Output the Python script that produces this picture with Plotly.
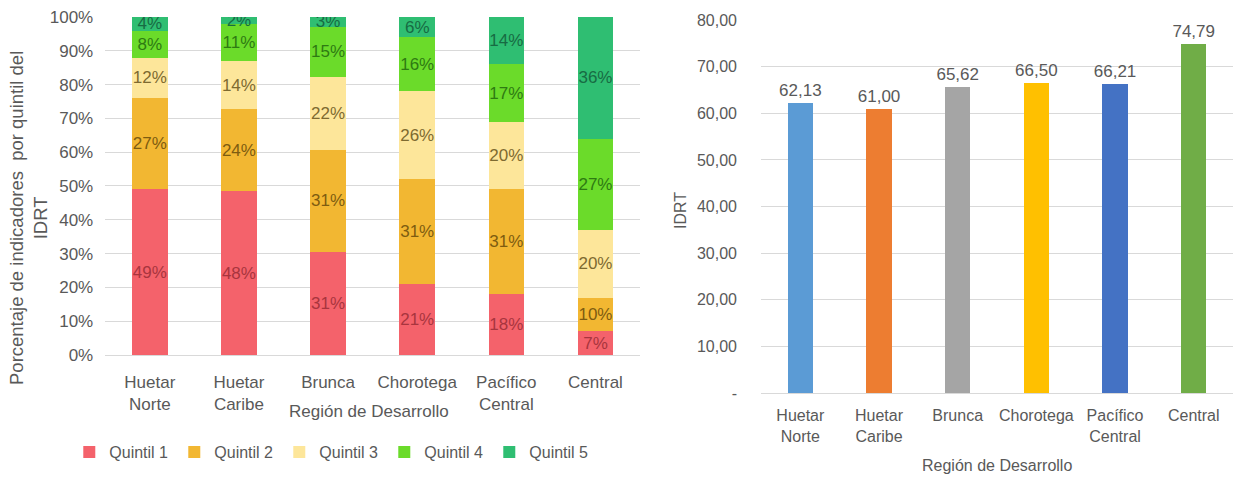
import plotly.graph_objects as go

regions = ["Huetar<br>Norte", "Huetar<br>Caribe", "Brunca", "Chorotega", "Pacífico<br>Central", "Central"]
quintiles = ["Quintil 1", "Quintil 2", "Quintil 3", "Quintil 4", "Quintil 5"]
q1 = [49, 48, 31, 21, 18, 7]
q2 = [27, 24, 31, 31, 31, 10]
q3 = [12, 14, 22, 26, 20, 20]
q4 = [8, 11, 15, 16, 17, 27]
q5 = [4, 2, 3, 6, 14, 36]
idrt = [62.13, 61.00, 65.62, 66.50, 66.21, 74.79]

q_colors = ["#F4626B", "#F2B732", "#FDE69A", "#6BDB2A", "#2FBE72"]
q_text = ["#A8353E", "#7E5C10", "#7E6A30", "#2E7A12", "#176B43"]
idrt_colors = ["#5B9BD5", "#ED7D31", "#A5A5A5", "#FFC000", "#4472C4", "#70AD47"]

series = [q1, q2, q3, q4, q5]
totals = [sum(s[i] for s in series) for i in range(len(regions))]

FONT = "Liberation Sans, Arial, sans-serif"
GRAY = "#595959"
GRID = "#D9D9D9"
FS = 17

fig = go.Figure()
for name, vals, col, tcol in zip(quintiles, series, q_colors, q_text):
    norm = [v / t * 100 for v, t in zip(vals, totals)]
    fig.add_trace(go.Bar(
        x=regions, y=norm, name=name, marker=dict(color=col, line=dict(width=0)),
        text=[f"{v}%" for v in vals], textposition="inside", insidetextanchor="middle",
        textangle=0, textfont=dict(color=tcol, size=FS, family=FONT), constraintext="none",
        width=0.4, xaxis="x", yaxis="y", hoverinfo="skip"))

fig.add_trace(go.Bar(
    x=regions, y=idrt, marker=dict(color=idrt_colors, line=dict(width=0)),
    text=[f"{v:.2f}".replace(".", ",") for v in idrt], textposition="outside",
    textangle=0, textfont=dict(color=GRAY, size=16, family=FONT), cliponaxis=False,
    width=0.32, xaxis="x2", yaxis="y2", showlegend=False, hoverinfo="skip"))

ax_common = dict(showgrid=False, showline=True, linecolor=GRID, linewidth=1, automargin=False,
                 ticks="", fixedrange=True)

ann_font = dict(size=FS, color=GRAY, family=FONT)

fig.update_layout(
    width=1238, height=477, margin=dict(l=0, r=0, t=0, b=0, autoexpand=False),
    paper_bgcolor="white", plot_bgcolor="white", barmode="stack",
    font=dict(family=FONT, color=GRAY, size=FS),
    uniformtext=dict(minsize=FS, mode="show"),
    xaxis=dict(domain=[0.085, 0.517], anchor="y", ticklabelstandoff=12,
               tickfont=dict(size=FS, color=GRAY, family=FONT), **ax_common),
    yaxis=dict(domain=[0.2558, 0.9644], anchor="x", range=[0, 100], automargin=False,
               tickvals=list(range(0, 101, 10)), ticktext=[f"{v}%" for v in range(0, 101, 10)],
               showgrid=True, gridcolor=GRID, zeroline=False, showline=False, fixedrange=True,
               tickfont=dict(size=FS, color=GRAY, family=FONT), ticklabelstandoff=11),
    xaxis2=dict(domain=[0.6147, 0.996], anchor="y2", ticklabelstandoff=8,
                tickfont=dict(size=16, color=GRAY, family=FONT), **ax_common),
    yaxis2=dict(domain=[0.1761, 0.958], anchor="x2", range=[0, 80], automargin=False,
                tickvals=list(range(0, 81, 10)),
                ticktext=["-"] + [f"{v},00" for v in range(10, 81, 10)],
                showgrid=True, gridcolor=GRID, zeroline=False, showline=False, fixedrange=True,
                tickfont=dict(size=16, color=GRAY, family=FONT), ticklabelstandoff=23),
    legend=dict(orientation="h", x=0.268, xanchor="center", y=0.052, yanchor="middle",
                font=dict(size=16, color=GRAY, family=FONT), itemwidth=30,
                entrywidth=60, entrywidthmode="pixels", traceorder="normal"),
    annotations=[
        dict(text="Porcentaje de indicadores  por quintil del<br>IDRT", x=28 / 1238, y=(477 - 218) / 477,
             xref="paper", yref="paper", xanchor="center", yanchor="middle", align="center",
             textangle=-90, showarrow=False, font=dict(size=18.5, color=GRAY, family=FONT)),
        dict(text="Región de Desarrollo", x=369 / 1238, y=(477 - 411) / 477,
             xref="paper", yref="paper", xanchor="center", yanchor="middle",
             showarrow=False, font=ann_font),
        dict(text="IDRT", x=680 / 1238, y=(477 - 210) / 477,
             xref="paper", yref="paper", xanchor="center", yanchor="middle",
             textangle=-90, showarrow=False, font=dict(size=16, color=GRAY, family=FONT)),
        dict(text="Región de Desarrollo", x=997 / 1238, y=(477 - 465) / 477,
             xref="paper", yref="paper", xanchor="center", yanchor="middle",
             showarrow=False, font=dict(size=16, color=GRAY, family=FONT)),
    ],
)

fig.write_html("out.html", config={"displayModeBar": False},
               post_script="document.body.style.margin='0px';")
